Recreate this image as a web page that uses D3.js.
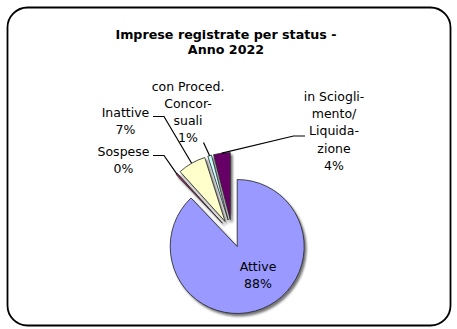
<!DOCTYPE html>
<html>
<head>
<meta charset="utf-8">
<script src="https://cdn.jsdelivr.net/npm/d3@7"></script>
<style>
  html, body { margin: 0; padding: 0; background: #fff; }
  svg { display: block; }
  text { font-family: "DejaVu Sans", Tahoma, sans-serif; fill: #000; }
</style>
</head>
<body>
<svg id="chart" width="457" height="329"></svg>
<script>
// Imprese registrate per status, anno 2022 (quota percentuale)
const categories = ["Attive", "Sospese", "Inattive", "con Proced. Concorsuali", "in Scioglimento/Liquidazione"];
const labelLines = [
  ["Attive"],
  ["Sospese"],
  ["Inattive"],
  ["con Proced.", "Concor-", "suali"],
  ["in Sciogli-", "mento/", "Liquida-", "zione"]
];
const shares = [87.9, 0.4, 6.8, 0.9, 4.0];
const colors = ["#9999FF", "#993366", "#FFFFCC", "#CCFFFF", "#660066"];
const titleLines = ["Imprese registrate per status -", "Anno 2022"];

const W = 457, H = 329;
const cx = 232, cy = 233.5, R = 67, explode = 14;
const lineH = 17.2;

// label placement: text centre x, first baseline y, leader start/elbow (null = inside label)
const labelLayout = [
  { x: 258, y: 271, leader: null },
  { x: 123.5, y: 155.5, leader: [[153, 155.5], [164, 155.5]] },
  { x: 125.5, y: 117, leader: [[153, 116.5], [164, 116.5]] },
  { x: 188, y: 90.5, leader: [[203.5, 142.5]] },
  { x: 334, y: 101, leader: [[305, 136], [293.5, 136]] }
];

const svg = d3.select("#chart");
const defs = svg.append("defs");
const f = defs.append("filter").attr("id", "shadow")
  .attr("x", "-20%").attr("y", "-20%").attr("width", "150%").attr("height", "150%");
f.append("feDropShadow").attr("dx", 2).attr("dy", 2.5).attr("stdDeviation", 1.2)
  .attr("flood-color", "#000").attr("flood-opacity", 0.55);

// rounded chart frame
svg.append("rect")
  .attr("x", 7.5).attr("y", 7.5).attr("width", 443).attr("height", 318)
  .attr("rx", 20).attr("ry", 20)
  .attr("fill", "#fff").attr("stroke", "#000").attr("stroke-width", 1.8);

// title
const title = svg.append("text").attr("text-anchor", "middle")
  .style("font-weight", "bold").style("font-size", "12.7px");
titleLines.forEach((t, i) => {
  title.append("tspan").attr("x", 226).attr("y", 38.5 + i * 15).text(t);
});

const pie = d3.pie().sort(null).value(d => d);
const arcs = pie(shares);
const arc = d3.arc().innerRadius(0).outerRadius(R);

function offset(a) {
  const m = (a.startAngle + a.endAngle) / 2;
  return [explode * Math.sin(m), -explode * Math.cos(m)];
}

const slices = svg.append("g").attr("transform", `translate(${cx},${cy})`)
  .attr("filter", "url(#shadow)");
slices.selectAll("path")
  .data(arcs)
  .join("path")
  .attr("transform", d => `translate(${offset(d)})`)
  .attr("d", arc)
  .attr("fill", (d, i) => colors[i])
  .attr("stroke", "#222")
  .attr("stroke-width", 0.8);

// leader lines from labels to the outer edge of each slice
const fmt = d3.format(".0f");
arcs.forEach((a, i) => {
  const L = labelLayout[i];
  if (!L.leader) return;
  const m = (a.startAngle + a.endAngle) / 2;
  const [ox, oy] = offset(a);
  const px = cx + ox + R * Math.sin(m), py = cy + oy - R * Math.cos(m);
  const pts = L.leader.concat([[px, py]]);
  svg.append("path")
    .attr("d", d3.line()(pts))
    .attr("fill", "none").attr("stroke", "#000").attr("stroke-width", 1.2);
});

// data labels
arcs.forEach((a, i) => {
  const L = labelLayout[i];
  const lines = labelLines[i].concat([fmt(shares[i]) + "%"]);
  const t = svg.append("text").attr("text-anchor", "middle").style("font-size", "12.5px");
  lines.forEach((s, k) => {
    t.append("tspan").attr("x", L.x).attr("y", L.y + k * lineH).text(s);
  });
});
</script>
</body>
</html>
